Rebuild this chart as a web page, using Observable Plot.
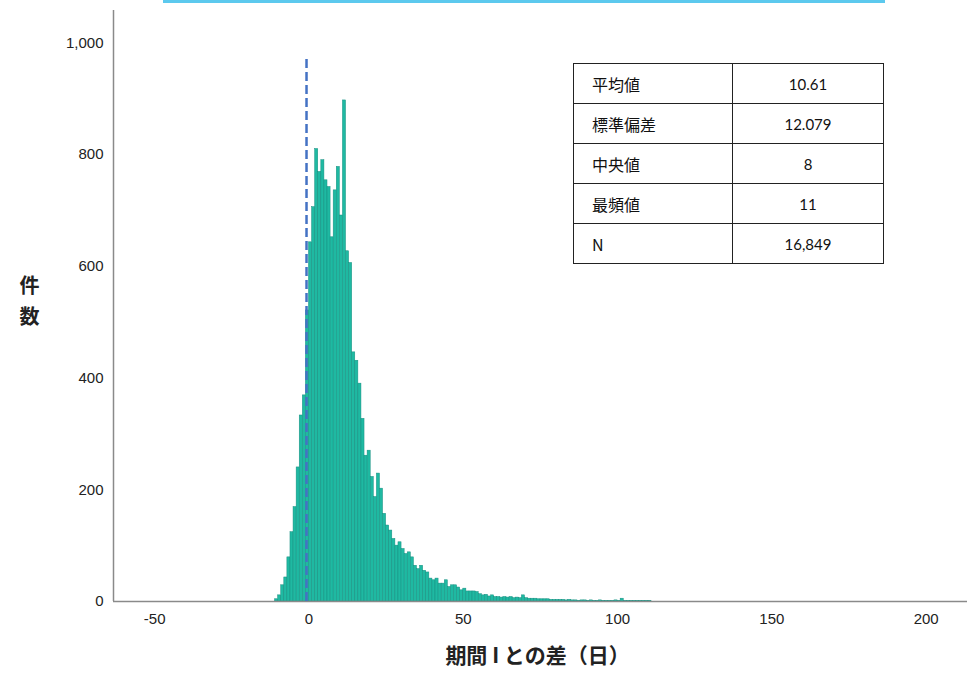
<!DOCTYPE html>
<html>
<head>
<meta charset="utf-8">
<script src="https://cdn.jsdelivr.net/npm/d3@7"></script>
<script src="https://cdn.jsdelivr.net/npm/@observablehq/plot@0.6"></script>
<style>
  html, body { margin: 0; padding: 0; background: #fff; }
  #wrap { position: relative; width: 975px; height: 674px; overflow: hidden; }
  #topline { position: absolute; left: 163px; top: 0; width: 722px; height: 3px; background: #5CC9EE; }
  #stats { position: absolute; left: 573px; top: 63px; border-collapse: collapse; }
  #stats td { border: 1px solid #222; height: 39px; padding: 0; font-family: Lato, "Noto Sans CJK JP", sans-serif; color: #111; }
  #stats td.k { width: 140px; padding-left: 18px; font-size: 16px; font-family: "Noto Sans CJK JP", Lato, sans-serif; }
  #stats td.v { width: 150px; text-align: center; font-size: 15px; }
</style>
</head>
<body>
<div id="wrap">
  <div id="topline"></div>
  <div id="chart"></div>
  <table id="stats"></table>
</div>
<script>
// Histogram bins: start day of each 1-day bin
const days = [
  -11, -10, -9, -8, -7, -6, -5, -4, -3, -2, -1,
  0, 1, 2, 3, 4, 5, 6, 7, 8, 9, 10, 11,
  12, 13, 14, 15, 16, 17, 18, 19, 20, 21, 22, 23,
  24, 25, 26, 27, 28, 29, 30, 31, 32, 33,
  34, 35, 36, 37, 38, 39, 40, 41, 42, 43,
  44, 45, 46, 47, 48, 49, 50, 51, 52, 53,
  54, 55, 56, 57, 58, 59, 60, 61, 62, 63,
  64, 65, 66, 67, 68, 69, 70, 71, 72, 73,
  74, 75, 76, 77, 78, 79, 80, 81, 82, 83,
  84, 85, 86, 87, 88, 89, 90, 91, 92, 93,
  94, 95, 96, 97, 98, 99, 100, 101, 102, 103,
  104, 105, 106, 107, 108, 109, 110
];
// Counts per bin (件数)
const counts = [
  4, 11, 29, 43, 79, 124, 169, 240, 333, 369, 521,
  643, 706, 810, 769, 790, 754, 742, 652, 736, 778, 691, 897,
  627, 606, 446, 431, 390, 327, 261, 270, 223, 187, 229, 202,
  157, 136, 127, 112, 100, 106, 94, 85, 88, 79,
  64, 58, 64, 55, 52, 41, 38, 41, 32, 32,
  38, 26, 29, 29, 25, 20, 23, 18, 18, 18,
  17, 13, 11, 12, 9, 11, 8, 8, 7, 8,
  7, 8, 6, 7, 6, 11, 6, 5, 5, 5,
  4, 4, 4, 4, 3, 3, 3, 3, 3, 2,
  3, 2, 2, 1, 2, 2, 1, 2, 1, 1,
  2, 1, 1, 1, 1, 2, 1, 5, 1, 1,
  1, 1, 1, 1, 1, 1, 1
];
const xTicks = [-50, 0, 50, 100, 150, 200];
const yTicks = [0, 200, 400, 600, 800, 1000];
const refDay = -0.8;      // dashed reference line as drawn (≈ 0)
const refTop = 972;       // top of dashed line in count units
const xLabel = "期間 I との差（日）";
const yLabelChars = ["件", "数"];
const statLabels = ["平均値", "標準偏差", "中央値", "最頻値", "N"];
const statValues = ["10.61", "12.079", "8", "11", "16,849"];

const bins = days.map((d, i) => ({day: d, count: counts[i]}));
const xDomain = [-63.35, 213.4];
const cjk = "'Noto Sans CJK JP', sans-serif";

const chart = Plot.plot({
  width: 975,
  height: 674,
  marginLeft: 113,
  marginRight: 8,
  marginTop: 10,
  marginBottom: 73,
  style: {fontFamily: "'Liberation Sans', Arial, sans-serif", fontSize: "15px", color: "#222", background: "transparent"},
  x: {domain: xDomain, ticks: xTicks, tickSize: 0, tickPadding: 12, label: null, tickFormat: d => String(d)},
  y: {domain: [0, 1058], ticks: yTicks, tickSize: 0, tickPadding: 10, label: null, tickFormat: d3.format(",")},
  marks: [
    Plot.rectY(bins, {x1: "day", x2: d => d.day + 1, y: "count", fill: "#1FB9A2", stroke: "#178F80", strokeWidth: 0.5}),
    Plot.ruleY([0], {stroke: "#8a8a8a", strokeWidth: 1.5}),
    Plot.ruleX([xDomain[0]], {stroke: "#8a8a8a", strokeWidth: 1.5}),
    Plot.ruleX([refDay], {y1: 0, y2: refTop, stroke: "#4472C4", strokeWidth: 2.5, strokeDasharray: "9,4"}),
    Plot.text([yLabelChars[0]], {frameAnchor: "left", textAnchor: "middle", dx: -84, dy: -19, fontSize: 20, fontWeight: "bold", fontFamily: cjk, fill: "#222"}),
    Plot.text([yLabelChars[1]], {frameAnchor: "left", textAnchor: "middle", dx: -84, dy: 12, fontSize: 20, fontWeight: "bold", fontFamily: cjk, fill: "#222"}),
    Plot.text([xLabel], {frameAnchor: "bottom", dy: 61, dx: -3, fontSize: 21, fontWeight: "bold", fontFamily: cjk, fill: "#222"})
  ]
});
document.getElementById("chart").appendChild(chart);

const table = d3.select("#stats");
statLabels.forEach((k, i) => {
  const tr = table.append("tr");
  tr.append("td").attr("class", "k").text(k);
  tr.append("td").attr("class", "v").text(statValues[i]);
});
</script>
</body>
</html>
